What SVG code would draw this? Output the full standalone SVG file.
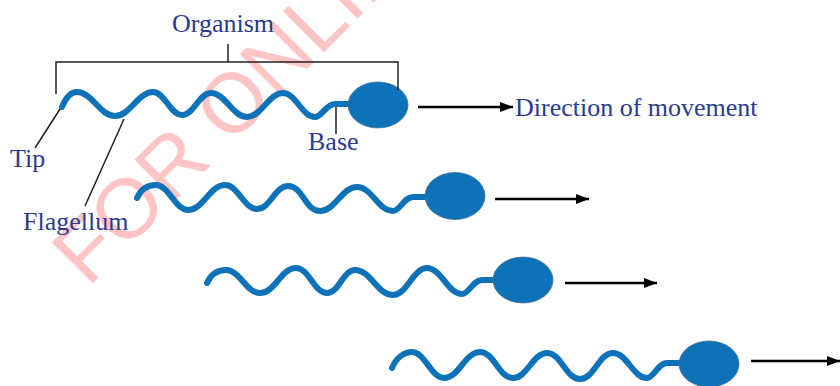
<svg xmlns="http://www.w3.org/2000/svg" width="840" height="386" viewBox="0 0 840 386">
  <style>
    .flag { fill: none; stroke: #0e72b8; stroke-width: 6; stroke-linecap: round; stroke-linejoin: round; }
    .head { fill: #0e72b8; stroke: #3d6f96; stroke-width: 0.8; }
    .lead { fill: none; stroke: #231f20; stroke-width: 1.5; }
    .move { fill: none; stroke: #000; stroke-width: 2.6; marker-end: url(#tipArrow); }
    .lbl { font-family: "Liberation Serif", "Times New Roman", serif; font-size: 26px; fill: #2b3a8f; }
    .mark { font-family: "Liberation Sans", Arial, sans-serif; font-size: 84px; fill: #ffc4c4; }
  </style>
  <defs>
    <marker id="tipArrow" markerUnits="userSpaceOnUse" markerWidth="14" markerHeight="12" refX="13" refY="5" orient="auto">
      <path d="M0,0 L13,5 L0,10 Z" fill="#000"/>
    </marker>
  </defs>

  <rect width="840" height="386" fill="#fff"/>

  <!-- watermark -->
  <text class="mark" x="88" y="288" transform="rotate(-45 88 288)">FOR ONLINE</text>

  <!-- organism 1 (labelled) -->
  <g id="organism1">
    <path class="flag" d="M62,107 C66,97 71,92 77,92 C92,92 100,116 115,116 C130,116 138,92 153,92 C165,92 170,115 182,115 C194,115 199,93 211,93 C225,93 233,117 247,117 C261,117 269,93 283,93 C296,93 302,117 315,117 C322,117 326,104 335,104 L350,104"/>
    <ellipse class="head" cx="378" cy="105" rx="30" ry="23"/>
  </g>

  <!-- organism 2 -->
  <g id="organism2">
    <path class="flag" d="M137,198 C141,189 148,185 156,185 C169,185 175,210 188,210 C203,210 210,185 225,185 C238,185 244,209 257,209 C270,209 275,186 288,186 C303,186 305,211 320,211 C335,211 342,187 357,187 C372,187 378,211 393,211 C400,211 404,197 413,197 L428,197"/>
    <ellipse class="head" cx="455" cy="196" rx="30" ry="23.5"/>
  </g>

  <!-- organism 3 -->
  <g id="organism3">
    <path class="flag" d="M207,283 C211,274 218,270 226,270 C240,270 246,293 260,293 C275,293 281,268 296,268 C309,268 314,293 327,293 C339,293 343,270 355,270 C371,270 377,295 393,295 C407,295 413,268 427,268 C441,268 448,294 462,294 C469,294 473,280 482,280 L496,280"/>
    <ellipse class="head" cx="523" cy="280" rx="30" ry="23"/>
  </g>

  <!-- organism 4 -->
  <g id="organism4">
    <path class="flag" d="M392,368 C396,358 404,352 412,352 C425,352 431,378 444,378 C459,378 465,352 480,352 C494,352 499,378 513,378 C527,378 533,353 547,353 C561,353 566,379 580,379 C594,379 599,353 613,353 C627,353 633,378 647,378 C654,378 658,363 667,363 L681,363"/>
    <ellipse class="head" cx="709" cy="364" rx="30" ry="23"/>
  </g>

  <!-- labels -->
  <g id="label-organism">
    <text class="lbl" x="223" y="32" text-anchor="middle">Organism</text>
  </g>
  <g id="label-direction">
    <text class="lbl" x="515" y="116">Direction of movement</text>
  </g>
  <g id="label-base">
    <text class="lbl" x="308" y="150">Base</text>
  </g>
  <g id="label-tip">
    <text class="lbl" x="10" y="167">Tip</text>
  </g>
  <g id="label-flagellum">
    <text class="lbl" x="23" y="230">Flagellum</text>
  </g>

  <!-- connectors: bracket, leader lines and movement arrows -->
  <g id="connectors">
    <path class="lead" d="M56,94 V62 H398 V90"/>
    <path class="lead" d="M228,44 V62"/>
    <path class="lead" d="M60,109 L35,148"/>
    <path class="lead" d="M124,119 L85,206"/>
    <path class="lead" d="M336,107 V134"/>
    <path class="move" d="M418,107 H513"/>
    <path class="move" d="M495,199 H589"/>
    <path class="move" d="M565,283 H657"/>
    <path class="move" d="M751,361 H840"/>
  </g>
</svg>
